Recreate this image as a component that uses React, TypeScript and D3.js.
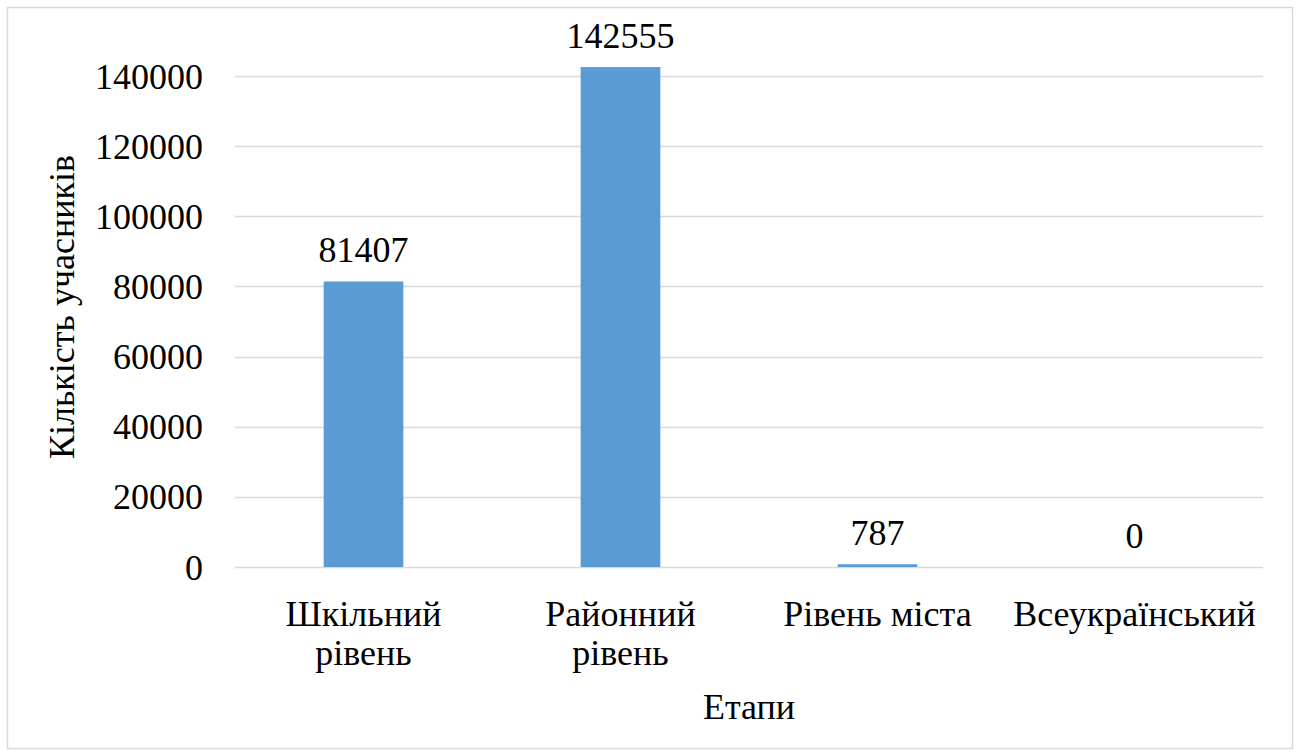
import React from "react";
import * as d3 from "d3";

const categories: string[] = ["Шкільний рівень", "Районний рівень", "Рівень міста", "Всеукраїнський"];
const values: number[] = [81407, 142555, 787, 0];
const yTicks: number[] = [0, 20000, 40000, 60000, 80000, 100000, 120000, 140000];
const yTitle = "Кількість учасників";
const xTitle = "Етапи";

const W = 1298;
const H = 755;
const FONT = '"Liberation Serif", "Times New Roman", serif';
const FS = 36;

function wrap(text: string, maxW: number): string[] {
  const canvas = document.createElement("canvas");
  const ctx = canvas.getContext("2d")!;
  ctx.font = `${FS}px "Liberation Serif"`;
  const words = text.split(" ");
  const lines: string[] = [];
  let cur: string[] = [];
  words.forEach((w) => {
    const trial = [...cur, w].join(" ");
    if (cur.length > 0 && ctx.measureText(trial).width > maxW) {
      lines.push(cur.join(" "));
      cur = [w];
    } else {
      cur.push(w);
    }
  });
  if (cur.length) lines.push(cur.join(" "));
  return lines;
}

export default function App() {
  const left = 235, right = 1263, top = 76, bottom = 567;
  const x = d3.scaleBand<string>().domain(categories).range([left, right]).paddingInner(0.69).paddingOuter(0.345);
  const y = d3.scaleLinear().domain([0, 140000]).range([bottom, top]);
  const textStyle = { fontFamily: FONT };

  return (
    <svg width={W} height={H} style={{ position: "absolute", left: 0, top: 0, background: "#fff" }}>
      <rect x={7.5} y={7.5} width={1285} height={741} fill="#fff" stroke="#D9D9D9" strokeWidth={1.5} />
      {yTicks.map((t) => (
        <line key={`g${t}`} x1={left} x2={right} y1={Math.round(y(t)) + 0.5} y2={Math.round(y(t)) + 0.5}
          stroke="#D9D9D9" strokeWidth={1.5} />
      ))}
      {yTicks.map((t) => (
        <text key={`t${t}`} x={203} y={y(t)} dy="0.35em" textAnchor="end" fontSize={FS} style={textStyle} fill="#000">
          {String(t)}
        </text>
      ))}
      {values.map((v, i) => (
        <rect key={`b${i}`} x={x(categories[i])!} width={x.bandwidth()} y={y(v)} height={bottom - y(v)} fill="#5B9BD5" />
      ))}
      {values.map((v, i) => (
        <text key={`v${i}`} x={x(categories[i])! + x.bandwidth() / 2} y={y(v) - 19} textAnchor="middle"
          fontSize={FS} style={textStyle} fill="#000">
          {String(v)}
        </text>
      ))}
      {categories.map((c) => {
        const cx = x(c)! + x.bandwidth() / 2;
        const lines = wrap(c, x.step() - 6);
        return (
          <text key={`c${c}`} textAnchor="middle" fontSize={FS} style={textStyle} fill="#000">
            {lines.map((l, j) => (
              <tspan key={j} x={cx} y={626 + j * 39}>{l}</tspan>
            ))}
          </text>
        );
      })}
      <text x={(left + right) / 2} y={719} textAnchor="middle" fontSize={FS} style={textStyle} fill="#000">{xTitle}</text>
      <text transform={`translate(74, 307) rotate(-90)`} textAnchor="middle" fontSize={FS}
        style={textStyle} fill="#000">{yTitle}</text>
    </svg>
  );
}
